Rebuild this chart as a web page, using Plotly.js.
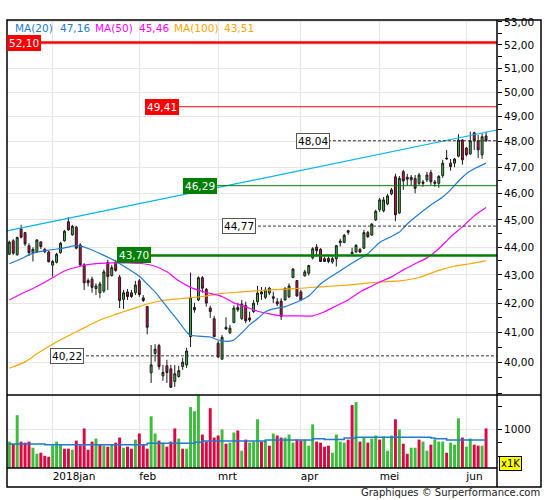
<!DOCTYPE html>
<html><head><meta charset="utf-8">
<script src="https://cdn.plot.ly/plotly-3.0.1.min.js"></script>
<style>html,body{margin:0;padding:0;background:#fff}#chart{width:545px;height:500px}</style>
</head><body><div id="chart"></div>
<script>
const dates = [
'2017-12-13','2017-12-14','2017-12-15','2017-12-18','2017-12-19','2017-12-20','2017-12-21','2017-12-22','2017-12-27','2017-12-28','2017-12-29',
'2018-01-02','2018-01-03','2018-01-04','2018-01-05','2018-01-08','2018-01-09','2018-01-10','2018-01-11','2018-01-12','2018-01-15','2018-01-16','2018-01-17','2018-01-18','2018-01-19','2018-01-22','2018-01-23','2018-01-24','2018-01-25','2018-01-26','2018-01-29','2018-01-30','2018-01-31',
'2018-02-01','2018-02-02','2018-02-05','2018-02-06','2018-02-07','2018-02-08','2018-02-09','2018-02-12','2018-02-13','2018-02-14','2018-02-15','2018-02-16','2018-02-19','2018-02-20','2018-02-21','2018-02-22','2018-02-23','2018-02-26','2018-02-27','2018-02-28',
'2018-03-01','2018-03-02','2018-03-05','2018-03-06','2018-03-07','2018-03-08','2018-03-09','2018-03-12','2018-03-13','2018-03-14','2018-03-15','2018-03-16','2018-03-19','2018-03-20','2018-03-21','2018-03-22','2018-03-23','2018-03-26','2018-03-27','2018-03-28','2018-03-29',
'2018-04-03','2018-04-04','2018-04-05','2018-04-06','2018-04-09','2018-04-10','2018-04-11','2018-04-12','2018-04-13','2018-04-16','2018-04-17','2018-04-18','2018-04-19','2018-04-20','2018-04-23','2018-04-24','2018-04-25','2018-04-26','2018-04-27','2018-04-30',
'2018-05-02','2018-05-03','2018-05-04','2018-05-07','2018-05-08','2018-05-09','2018-05-10','2018-05-11','2018-05-14','2018-05-15','2018-05-16','2018-05-17','2018-05-18','2018-05-21','2018-05-22','2018-05-23','2018-05-24','2018-05-25','2018-05-28','2018-05-29','2018-05-30','2018-05-31',
'2018-06-01','2018-06-04','2018-06-05','2018-06-06','2018-06-07','2018-06-08'];

const open = [43.74,44.23,43.72,44.66,44.53,44.05,43.80,43.83,44.19,43.92,43.82,43.35,43.45,43.80,44.23,44.93,44.45,44.73,44.08,43.36,
42.80,42.85,42.52,42.37,42.43,43.45,42.98,43.45,42.92,42.14,42.40,42.37,42.37,42.79,42.19,41.89,39.66,40.30,40.56,39.56,
39.89,39.79,39.38,39.54,39.87,39.92,40.86,41.86,42.12,42.90,42.49,41.84,41.47,40.64,40.11,41.18,41.00,41.34,41.86,41.48,
41.93,41.50,41.72,42.06,42.40,42.21,42.36,42.23,42.06,42.08,42.12,42.23,42.91,42.80,42.40,42.97,43.06,43.61,44.00,43.92,
43.58,43.59,43.46,43.58,44.16,44.17,44.60,43.81,43.83,43.92,43.96,44.53,44.44,45.00,45.38,45.34,45.60,45.98,46.63,45.26,
46.83,46.61,46.51,46.57,46.38,46.43,46.51,46.79,46.43,46.38,46.68,47.36,47.16,47.16,47.43,48.07,47.75,47.52,48.36,48.04,
47.49,48.23];
const high = [44.24,44.29,44.38,44.82,44.56,44.14,43.99,44.29,44.21,43.96,43.86,43.54,43.79,44.19,44.63,45.10,44.82,44.78,44.14,43.42,
42.88,42.94,42.70,42.76,43.19,43.54,43.36,43.54,43.00,42.47,42.50,42.47,42.79,42.86,42.29,41.91,40.58,40.61,40.62,39.92,
40.09,39.92,39.92,39.89,40.16,40.49,43.08,42.02,42.95,42.96,42.54,41.92,41.57,40.72,40.92,41.52,41.26,41.93,42.02,42.12,
42.06,41.71,42.12,42.61,42.57,42.57,42.58,42.41,42.19,42.18,42.56,42.70,43.24,42.82,42.47,43.18,43.36,44.00,44.11,43.96,
43.65,43.66,43.66,44.08,44.30,44.48,44.63,43.98,44.11,43.96,44.63,44.59,44.89,45.38,45.82,45.86,45.98,46.20,46.75,46.66,
46.90,46.74,46.70,46.70,46.78,46.51,46.82,46.90,46.51,46.70,47.29,47.68,47.32,47.36,48.30,48.11,47.79,48.40,48.40,48.27,
48.34,48.40];
const low = [43.71,43.72,43.69,44.32,44.04,43.68,43.48,43.80,43.93,43.78,43.45,42.94,43.41,43.76,44.20,44.60,44.41,43.92,43.30,42.47,
42.59,42.37,42.29,42.18,42.37,42.47,42.94,43.11,41.84,41.81,42.12,42.19,42.29,42.23,42.05,40.94,39.33,40.03,39.76,39.40,
39.33,39.17,39.20,39.50,39.76,39.82,40.51,41.68,42.08,42.37,41.89,41.50,40.85,40.15,40.09,41.09,40.95,41.32,41.71,41.43,
41.32,41.36,41.67,41.95,42.12,42.15,42.29,42.01,41.91,41.43,42.10,42.18,42.88,42.23,42.10,42.94,42.98,43.55,43.66,43.46,
43.46,43.42,43.40,43.30,44.02,44.14,44.45,43.74,43.78,43.79,43.93,44.33,44.41,44.96,45.30,45.28,45.55,45.93,44.95,45.23,
46.13,46.28,46.28,46.00,46.32,46.25,46.43,46.32,46.25,46.21,46.59,47.29,46.87,47.00,47.39,47.10,47.42,47.49,47.68,47.36,
47.33,48.00];
const close = [44.18,43.78,44.35,44.36,44.12,43.80,43.92,44.26,44.02,43.83,43.47,43.48,43.74,44.14,44.58,44.63,44.76,43.96,43.36,42.72,
42.72,42.56,42.61,42.68,43.11,42.94,43.26,43.16,42.10,42.37,42.24,42.24,42.64,42.31,42.10,41.18,39.92,40.44,39.86,39.67,
39.67,39.19,39.63,39.73,40.01,40.38,42.21,41.78,42.90,42.53,42.01,41.72,40.86,40.18,40.84,41.12,41.15,41.84,41.78,41.98,
41.40,41.43,42.01,42.36,42.33,42.47,42.53,42.18,41.98,41.55,42.53,42.61,43.21,42.26,42.12,43.11,43.33,43.94,43.87,43.48,
43.48,43.48,43.58,44.05,44.22,44.43,44.54,43.76,44.06,43.82,44.53,44.38,44.84,45.32,45.75,45.75,45.90,46.13,45.19,46.57,
46.47,46.54,46.61,46.19,46.70,46.38,46.70,46.44,46.38,46.64,47.16,47.33,47.03,47.32,48.07,47.29,47.49,48.04,48.04,47.68,
48.20,48.04];

const volume = [775,731,1263,775,756,775,662,550,569,512,494,706,775,719,644,644,625,794,706,1019,
625,775,831,719,700,681,719,756,850,662,681,644,812,925,719,644,1244,925,794,756,
681,775,1019,831,644,644,1413,1338,1632,906,775,1394,850,888,1000,737,756,944,981,606,
812,756,775,1188,775,800,700,925,888,850,850,906,756,812,794,812,700,1094,775,756,
681,700,569,906,775,756,812,1450,1506,775,850,756,831,888,812,869,606,888,1188,1000,
737,550,662,662,812,775,606,719,812,775,775,569,756,719,1206,850,681,831,719,700,
700,1019];
const volumeUp = [1,0,1,0,0,0,1,1,0,0,0,1,1,1,0,0,1,0,0,0,
0,0,1,0,1,0,1,0,0,1,0,0,1,0,0,0,1,1,0,1,
0,0,0,1,0,1,1,1,1,0,0,0,0,0,1,0,1,1,0,1,
0,1,1,1,0,1,0,1,0,0,1,1,1,0,0,1,1,1,0,0,
0,0,1,1,1,1,0,0,1,0,1,0,1,1,0,1,1,1,0,1,
0,0,1,1,0,1,1,0,1,1,1,0,1,1,1,0,1,1,0,0,
1,0];
const volMaIdx = [0,9,35,47,49,65,77,80,85,88,107,108,111,121];
const volMa = [732,719,743,762,788,807,826,813,844,856,843,826,807,807];

const ma20Idx = [0,3,6,10,14,17,20,24,27,30,33,35,37,39,41,43,45,46,48,51,53,55,57,59,61,63,65,67,70,73,76,79,82,85,88,91,94,97,99,101,104,107,110,112,114,116,118,121];
const ma20 = [43.40,43.58,43.78,43.89,43.97,44.05,43.95,43.70,43.49,43.23,42.95,42.68,42.40,42.05,41.71,41.37,41.02,40.91,40.88,40.85,40.75,40.70,40.75,40.99,41.26,41.47,41.71,41.81,41.89,42.05,42.26,42.68,42.97,43.24,43.51,43.76,44.17,44.39,44.55,44.85,45.22,45.56,45.86,46.13,46.46,46.75,46.94,47.16];
const ma50Idx = [0,3,6,10,14,18,22,26,30,34,37,40,43,46,50,54,57,60,63,66,69,73,77,80,83,86,89,92,94,97,100,103,106,109,112,115,118,121];
const ma50 = [42.12,42.33,42.52,42.82,43.14,43.31,43.40,43.43,43.43,43.40,43.31,43.11,42.79,42.56,42.38,42.24,42.02,41.88,41.73,41.64,41.57,41.57,41.57,41.71,41.92,42.12,42.40,42.61,42.75,42.93,43.18,43.40,43.61,43.94,44.37,44.74,45.15,45.46];
const ma100Idx = [0,4,7,11,15,19,23,27,31,35,39,44,49,54,59,64,69,74,79,84,89,94,99,104,109,113,117,121];
const ma100 = [39.81,40.02,40.29,40.61,40.89,41.16,41.43,41.62,41.80,41.98,42.10,42.17,42.24,42.35,42.40,42.45,42.49,42.53,42.58,42.62,42.68,42.75,42.79,42.91,43.16,43.31,43.40,43.51];

const trendIdx = [-0.58, 123.78];
const trendValue = [44.59, 48.47];

const levelValues = [52.10, 49.41, 46.29, 43.70, 48.04, 44.77, 40.22];
const monthLabels = ['2018jan','feb','mrt','apr','mei','jun'];
const priceTicks = [40,41,42,43,44,45,46,47,48,49,50,51,52,53];
const maNames = ['MA(20)','MA(50)','MA(100)'];

const FONT = 'DejaVu Sans';
const fmt = v => v.toFixed(2).replace('.', ',');
const idx = dates.map((d, i) => i);

// first trading day of each month of 2018
const monthStarts = [];
dates.forEach((d, i) => { if (i > 0 && d.slice(0,7) !== dates[i-1].slice(0,7)) monthStarts.push(i); });

const GREEN = '#3dbd3d', RED = '#dc0843';
const C20 = '#1e7ad2', C50 = '#ff00ff', C100 = '#ffa500';

const traces = [
  {type:'bar', x: idx, y: volume, xaxis:'x', yaxis:'y2',
   marker:{color: volumeUp.map(u => u ? GREEN : RED), line:{width:0}}, hoverinfo:'skip'},
  {type:'scatter', mode:'lines', x: volMaIdx, y: volMa, xaxis:'x', yaxis:'y2',
   line:{color:'#1e7ad2', width:1.5, shape:'hv'}, hoverinfo:'skip'},
  {type:'scatter', mode:'lines', x: ma100Idx, y: ma100, xaxis:'x', yaxis:'y',
   line:{color:C100, width:1.2, shape:'spline', smoothing:0.6}, hoverinfo:'skip'},
  {type:'scatter', mode:'lines', x: ma50Idx, y: ma50, xaxis:'x', yaxis:'y',
   line:{color:C50, width:1.2, shape:'spline', smoothing:0.6}, hoverinfo:'skip'},
  {type:'scatter', mode:'lines', x: ma20Idx, y: ma20, xaxis:'x', yaxis:'y',
   line:{color:C20, width:1.2, shape:'spline', smoothing:0.6}, hoverinfo:'skip'},
  {type:'scatter', mode:'lines', x: trendIdx, y: trendValue, xaxis:'x', yaxis:'y',
   line:{color:'#00b4f0', width:1.2}, hoverinfo:'skip'},
  {type:'candlestick', x: idx, open: open, high: high, low: low, close: close, xaxis:'x', yaxis:'y',
   increasing:{line:{color:'#1a1a1a', width:1}, fillcolor: GREEN},
   decreasing:{line:{color:'#1a1a1a', width:1}, fillcolor: RED},
   whiskerwidth: 0, hoverinfo:'skip'}
];

// level line styles (presentation only)
const levelStyle = [
  {color:'#ff0000', width:2.5, dash:'solid', start:0,      box:0,      bg:'#ff0000', fc:'#ffffff', bc:'#ff0000'},
  {color:'#ff0000', width:1,   dash:'solid', start:0.2816, box:0.2816, bg:'#ff0000', fc:'#ffffff', bc:'#ff0000'},
  {color:'#008000', width:1,   dash:'solid', start:0.359,  box:0.359,  bg:'#008000', fc:'#ffffff', bc:'#008000'},
  {color:'#008000', width:2.5, dash:'solid', start:0.2245, box:0.2245, bg:'#008000', fc:'#ffffff', bc:'#008000'},
  {color:'#333333', width:1,   dash:'3px,2px', start:0.655, box:0.5898, bg:'#ffffff', fc:'#000000', bc:'#555555'},
  {color:'#333333', width:1,   dash:'3px,2px', start:0.502, box:0.4388, bg:'#ffffff', fc:'#000000', bc:'#555555'},
  {color:'#333333', width:1,   dash:'3px,2px', start:0.151, box:0.0878, bg:'#ffffff', fc:'#000000', bc:'#555555'}
];

const shapes = [];
const annotations = [];
levelValues.forEach((v, i) => {
  const s = levelStyle[i];
  shapes.push({type:'line', xref:'paper', yref:'y', x0:s.start, x1:1, y0:v, y1:v,
    line:{color:s.color, width:s.width, dash:s.dash}, layer:'above'});
  annotations.push({xref:'paper', yref:'y', x:s.box, y:Math.log10(v), xanchor:'left', yanchor:'middle',
    text: fmt(v), showarrow:false, bgcolor:s.bg, bordercolor:s.bc, borderwidth:1, borderpad:1,
    font:{family:FONT, size:10.5, color:s.fc}});
});

// frame
const FR = {color:'#000', width:1.5};
const volTop = 0.163;
shapes.push({type:'rect', xref:'paper', yref:'paper', x0:0, x1:1.0898, y0:-0.0424, y1:1, line:FR, layer:'above'});
shapes.push({type:'line', xref:'paper', yref:'paper', x0:1, x1:1, y0:-0.0424, y1:1, line:FR, layer:'above'});
shapes.push({type:'line', xref:'paper', yref:'paper', x0:0, x1:1.0898, y0:volTop, y1:volTop, line:FR, layer:'above'});
shapes.push({type:'line', xref:'paper', yref:'paper', x0:0, x1:1, y0:0, y1:0, line:FR, layer:'above'});

// MA legend at top
const lastVals = [ma20[ma20.length-1], ma50[ma50.length-1], ma100[ma100.length-1]];
const maColors = [C20, C50, C100];
const legX = [[0.0122, 0.104], [0.1755, 0.2653], [0.3367, 0.4388]];
maNames.forEach((n, i) => {
  annotations.push({xref:'paper', yref:'paper', x:legX[i][0], y:0.982, xanchor:'left', yanchor:'middle',
    text:n, showarrow:false, font:{family:FONT, size:10.5, color:maColors[i]}});
  annotations.push({xref:'paper', yref:'paper', x:legX[i][1], y:0.982, xanchor:'left', yanchor:'middle',
    text:fmt(lastVals[i]), showarrow:false, font:{family:FONT, size:10.5, color:maColors[i]}});
});

annotations.push({xref:'paper', yref:'paper', x:1.004, y:0.009, xanchor:'left', yanchor:'middle',
  text:'x1K', showarrow:false, bgcolor:'#ffff00', bordercolor:'#000', borderwidth:1, borderpad:1,
  font:{family:FONT, size:10, color:'#000'}});
annotations.push({xref:'paper', yref:'paper', x:1.0898, y:-0.0545, xanchor:'right', yanchor:'middle',
  text:'Graphiques \u00a9 Surperformance.com', showarrow:false, borderpad:0,
  font:{family:FONT, size:10, color:'#222'}});

const layout = {
  width:545, height:500,
  margin:{l:7, r:48, t:20, b:32, pad:0},
  paper_bgcolor:'#fff', plot_bgcolor:'#fff',
  showlegend:false, hovermode:false,
  bargap:0.25,
  font:{family:FONT, size:10.5, color:'#000'},
  xaxis:{domain:[0,1], anchor:'y2', range:[-0.584, 123.78], type:'linear',
    tickmode:'array', tickvals: monthStarts, ticktext: monthLabels,
    ticklabelposition:'outside right', ticks:'', showgrid:true, gridcolor:'#e6e6e6', gridwidth:1,
    zeroline:false, showline:false, rangeslider:{visible:false}, fixedrange:true,
    tickfont:{family:FONT, size:10.5, color:'#000'}},
  yaxis:{domain:[volTop,1], anchor:'x', type:'log', side:'right',
    range:[Math.log10(38.94), Math.log10(53.08)],
    tickmode:'array', tickvals: priceTicks, ticktext: priceTicks.map(fmt),
    ticks:'outside', ticklen:4, tickcolor:'#000', tickwidth:1,
    minor:{tickmode:'array', tickvals: [39].concat(priceTicks.map(v => v - 0.5)), ticks:'outside', ticklen:4, tickcolor:'#000', showgrid:false},
    showgrid:true, gridcolor:'#e6e6e6', gridwidth:1, zeroline:false, showline:false, fixedrange:true,
    tickfont:{family:FONT, size:10.5, color:'#000'}},
  yaxis2:{domain:[0,volTop], anchor:'x', side:'right', range:[287, 1638],
    tickmode:'array', tickvals:[1000], ticktext:['1000'],
    ticks:'outside', ticklen:4, tickcolor:'#000',
    minor:{tickmode:'array', tickvals:[500, 750, 1430], ticks:'outside', ticklen:4, tickcolor:'#000', showgrid:false},
    showgrid:true, gridcolor:'#e6e6e6', zeroline:false, showline:false, fixedrange:true,
    tickfont:{family:FONT, size:10.5, color:'#000'}},
  shapes: shapes,
  annotations: annotations
};

Plotly.newPlot('chart', traces, layout, {staticPlot:true, displayModeBar:false});
</script>
</body></html>
